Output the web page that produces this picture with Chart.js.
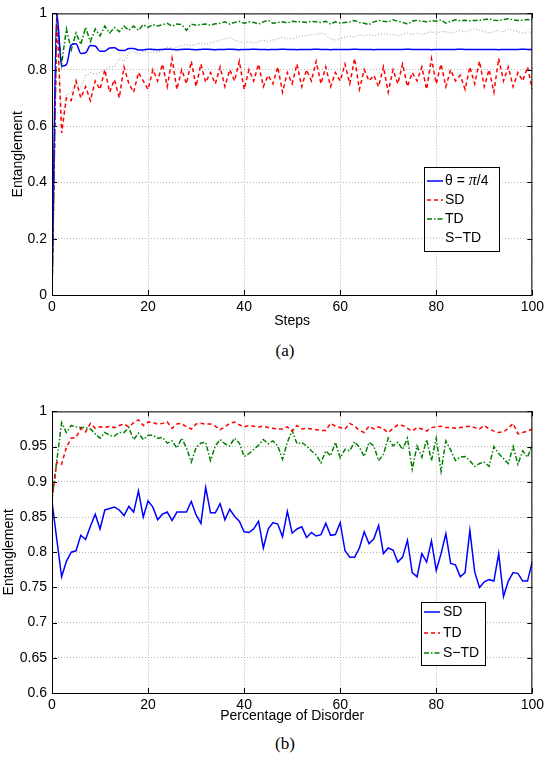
<!DOCTYPE html>
<html>
<head>
<meta charset="utf-8">
<script src="https://cdn.jsdelivr.net/npm/chart.js@4.4.0/dist/chart.umd.min.js"></script>
<style>
  body { margin: 0; background: #fff; width: 548px; height: 766px; position: relative; overflow: hidden; }
  .wrap { position: absolute; left: 0; width: 548px; height: 336px; }
  .cap { position: absolute; left: 0; width: 570px; text-align: center; font: 17px "Liberation Serif", serif; color: #000; }
</style>
</head>
<body>
<div class="wrap" style="top:0"><canvas id="chartA" width="548" height="336"></canvas></div>
<div class="cap" style="top:341px">(a)</div>
<div class="wrap" style="top:398px"><canvas id="chartB" width="548" height="336"></canvas></div>
<div class="cap" style="top:734px">(b)</div>
<script>
// x positions shared by both panels
const steps = Array.from({ length: 101 }, (_, i) => i);

// panel (a): entanglement vs steps
const thetaA = [0, 1, 0.813, 0.818, 0.888, 0.892, 0.858, 0.860, 0.886, 0.884, 0.866, 0.866, 0.877, 0.878, 0.869, 0.868, 0.875, 0.875, 0.870, 0.870, 0.873,
  0.872, 0.871, 0.872, 0.873, 0.872, 0.871, 0.872, 0.873, 0.872, 0.871,
  0.872, 0.873, 0.872, 0.871, 0.872, 0.872, 0.873, 0.872, 0.871, 0.872,
  0.872, 0.873, 0.872, 0.872, 0.871, 0.872, 0.872, 0.873, 0.872, 0.872,
  0.871, 0.872, 0.872, 0.872, 0.873, 0.872, 0.872, 0.871, 0.872, 0.872,
  0.872, 0.872, 0.873, 0.872, 0.872, 0.872, 0.871, 0.872, 0.872, 0.872,
  0.872, 0.872, 0.872, 0.873, 0.872, 0.872, 0.872, 0.872, 0.871, 0.872,
  0.872, 0.872, 0.872, 0.872, 0.873, 0.872, 0.872, 0.872, 0.872, 0.872,
  0.872, 0.872, 0.871, 0.872, 0.872, 0.872, 0.872, 0.873, 0.872, 0.872];
const sdA = [0, 1, 0.575, 0.70, 0.69, 0.76, 0.70, 0.74, 0.69, 0.76, 0.73, 0.80, 0.72, 0.765, 0.70, 0.81, 0.75, 0.72, 0.79, 0.76, 0.73,
  0.80, 0.76, 0.82, 0.74, 0.84, 0.73, 0.80, 0.75, 0.83, 0.74,
  0.82, 0.755, 0.79, 0.75, 0.81, 0.74, 0.80, 0.76, 0.83, 0.73,
  0.80, 0.76, 0.82, 0.74, 0.78, 0.75, 0.81, 0.72, 0.79, 0.75,
  0.82, 0.74, 0.80, 0.76, 0.83, 0.75, 0.81, 0.74, 0.79, 0.76,
  0.82, 0.75, 0.84, 0.73, 0.80, 0.76, 0.78, 0.74, 0.81, 0.72,
  0.80, 0.75, 0.82, 0.74, 0.79, 0.76, 0.81, 0.73, 0.84, 0.75,
  0.82, 0.74, 0.80, 0.76, 0.78, 0.73, 0.81, 0.75, 0.83, 0.74,
  0.80, 0.72, 0.84, 0.76, 0.81, 0.74, 0.79, 0.76, 0.81, 0.73, 0.77];
const tdA = [0, 1, 0.82, 0.945, 0.87, 0.93, 0.89, 0.95, 0.90, 0.945, 0.92, 0.955, 0.93, 0.95, 0.935, 0.955, 0.94, 0.955, 0.94, 0.96, 0.95,
  0.96, 0.955, 0.96, 0.965, 0.955, 0.962, 0.96, 0.94, 0.962, 0.958,
  0.96, 0.962, 0.958, 0.963, 0.965, 0.97, 0.962, 0.968, 0.972, 0.965,
  0.97, 0.968, 0.962, 0.97, 0.976, 0.965, 0.968, 0.97, 0.966, 0.972,
  0.97, 0.97, 0.968, 0.972, 0.97, 0.968, 0.972, 0.962, 0.97, 0.966,
  0.968, 0.97, 0.975, 0.968, 0.965, 0.96, 0.97, 0.975, 0.972, 0.97,
  0.977, 0.972, 0.968, 0.962, 0.972, 0.976, 0.972, 0.97, 0.974, 0.972,
  0.977, 0.965, 0.972, 0.977, 0.974, 0.976, 0.974, 0.975, 0.976, 0.978,
  0.981, 0.976, 0.975, 0.978, 0.981, 0.977, 0.975, 0.976, 0.978, 0.977];
const stdA = [0, 1, 0.62, 0.71, 0.72, 0.75, 0.74, 0.78, 0.79, 0.785, 0.79, 0.80, 0.81, 0.81, 0.84, 0.83, 0.86, 0.865, 0.855, 0.865, 0.86,
  0.865, 0.86, 0.87, 0.88, 0.875, 0.88, 0.885, 0.89, 0.885, 0.89,
  0.895, 0.89, 0.895, 0.90, 0.905, 0.91, 0.915, 0.905, 0.90, 0.895,
  0.90, 0.895, 0.90, 0.905, 0.90, 0.905, 0.91, 0.915, 0.91, 0.91,
  0.915, 0.92, 0.92, 0.925, 0.925, 0.93, 0.925, 0.91, 0.905, 0.91,
  0.915, 0.92, 0.915, 0.925, 0.92, 0.925, 0.92, 0.925, 0.93, 0.925,
  0.925, 0.92, 0.925, 0.93, 0.925, 0.93, 0.925, 0.93, 0.935, 0.93,
  0.935, 0.935, 0.93, 0.935, 0.94, 0.935, 0.94, 0.945, 0.94, 0.935,
  0.93, 0.935, 0.94, 0.935, 0.945, 0.94, 0.935, 0.93, 0.935, 0.93];

// panel (b): entanglement vs percentage of disorder
const sdB = [0.872, 0.818, 0.765, 0.787, 0.800, 0.802, 0.824, 0.818, 0.837, 0.854, 0.833,
  0.860, 0.862, 0.864, 0.860, 0.852, 0.865, 0.857, 0.887, 0.850, 0.873,
  0.864, 0.846, 0.854, 0.857, 0.845, 0.857, 0.857, 0.857, 0.872, 0.853,
  0.841, 0.892, 0.856, 0.856, 0.869, 0.846, 0.861, 0.851, 0.844, 0.829,
  0.828, 0.833, 0.844, 0.806, 0.833, 0.842, 0.840, 0.822, 0.858, 0.827,
  0.833, 0.836, 0.821, 0.828, 0.823, 0.825, 0.841, 0.824, 0.825, 0.842,
  0.802, 0.793, 0.793, 0.806, 0.829, 0.812, 0.819, 0.838, 0.798, 0.806,
  0.803, 0.786, 0.793, 0.817, 0.771, 0.765, 0.798, 0.786, 0.816, 0.774,
  0.798, 0.826, 0.784, 0.782, 0.765, 0.771, 0.831, 0.772, 0.750, 0.758,
  0.761, 0.759, 0.798, 0.737, 0.759, 0.771, 0.770, 0.759, 0.759, 0.787];
const tdB = [0.875, 0.928, 0.925, 0.949, 0.962, 0.963, 0.976, 0.971, 0.983, 0.976, 0.978,
  0.977, 0.979, 0.977, 0.980, 0.982, 0.978, 0.984, 0.988, 0.980, 0.985,
  0.984, 0.982, 0.983, 0.985, 0.976, 0.982, 0.983, 0.978, 0.975, 0.982,
  0.983, 0.982, 0.982, 0.979, 0.974, 0.978, 0.983, 0.985, 0.981, 0.978,
  0.980, 0.979, 0.978, 0.979, 0.977, 0.976, 0.975, 0.975, 0.978, 0.972,
  0.980, 0.975, 0.976, 0.975, 0.974, 0.973, 0.973, 0.983, 0.979, 0.977,
  0.975, 0.983, 0.979, 0.973, 0.970, 0.979, 0.975, 0.978, 0.975, 0.970,
  0.976, 0.981, 0.980, 0.976, 0.972, 0.977, 0.975, 0.972, 0.977, 0.978,
  0.979, 0.977, 0.977, 0.976, 0.977, 0.978, 0.979, 0.977, 0.975, 0.980,
  0.975, 0.972, 0.970, 0.971, 0.976, 0.983, 0.968, 0.970, 0.972, 0.975];
const stdB = [0.875, 0.930, 0.984, 0.970, 0.980, 0.978, 0.977, 0.977, 0.975, 0.968, 0.962,
  0.970, 0.966, 0.965, 0.970, 0.970, 0.977, 0.960, 0.969, 0.960, 0.966,
  0.966, 0.962, 0.963, 0.955, 0.958, 0.948, 0.962, 0.948, 0.928, 0.949,
  0.955, 0.956, 0.930, 0.951, 0.960, 0.954, 0.951, 0.962, 0.955, 0.936,
  0.940, 0.946, 0.952, 0.960, 0.954, 0.958, 0.951, 0.932, 0.956, 0.973,
  0.954, 0.956, 0.951, 0.944, 0.938, 0.927, 0.944, 0.937, 0.956, 0.934,
  0.946, 0.944, 0.957, 0.949, 0.936, 0.956, 0.951, 0.930, 0.939, 0.962,
  0.951, 0.956, 0.946, 0.962, 0.918, 0.951, 0.935, 0.960, 0.930, 0.962,
  0.915, 0.958, 0.945, 0.930, 0.935, 0.936, 0.930, 0.922, 0.926, 0.928,
  0.922, 0.950, 0.940, 0.933, 0.926, 0.950, 0.925, 0.944, 0.935, 0.952];

Chart.defaults.font.family = '"Liberation Sans", Arial, sans-serif';
Chart.defaults.font.size = 14;
Chart.defaults.color = '#000';

const toPoints = (vals) => vals.map((v, i) => ({ x: steps[i], y: v }));

function line(label, vals, color, dash, extra) {
  return Object.assign({
    label, data: toPoints(vals), borderColor: color, backgroundColor: color,
    borderWidth: 1.5, borderDash: dash, pointRadius: 0, tension: 0, fill: false
  }, extra || {});
}

// MATLAB style frame with inward ticks on all four sides
const matlabBox = {
  id: 'matlabBox',
  afterDatasetsDraw(chart) {
    const { ctx, chartArea: a, scales: { x, y } } = chart;
    ctx.save();
    ctx.strokeStyle = '#000';
    ctx.lineWidth = 1;
    ctx.setLineDash([]);
    ctx.strokeRect(a.left + 0.5, a.top + 0.5, a.right - a.left - 1, a.bottom - a.top);
    ctx.beginPath();
    x.ticks.forEach(t => {
      const px = Math.round(x.getPixelForValue(t.value)) + 0.5;
      ctx.moveTo(px, a.bottom); ctx.lineTo(px, a.bottom - 5);
      ctx.moveTo(px, a.top); ctx.lineTo(px, a.top + 5);
    });
    y.ticks.forEach(t => {
      const py = Math.round(y.getPixelForValue(t.value)) + 0.5;
      ctx.moveTo(a.left, py); ctx.lineTo(a.left + 5, py);
      ctx.moveTo(a.right, py); ctx.lineTo(a.right - 5, py);
    });
    ctx.stroke();
    ctx.restore();
  }
};

function drawLabel(ctx, text, x, y) {
  const parts = text.split('π');
  let cx = x;
  parts.forEach((p, i) => {
    ctx.font = '14px "Liberation Sans", Arial, sans-serif';
    ctx.fillText(p, cx, y);
    cx += ctx.measureText(p).width;
    if (i < parts.length - 1) {
      ctx.font = 'italic 16px "Liberation Serif", serif';
      ctx.fillText('π', cx, y);
      cx += ctx.measureText('π').width;
    }
  });
}

// legend box placed inside the plot area
const boxLegend = {
  id: 'boxLegend',
  afterDraw(chart, args, opts) {
    const ctx = chart.ctx;
    ctx.save();
    ctx.fillStyle = '#fff';
    ctx.fillRect(opts.x, opts.y, opts.w, opts.h);
    ctx.strokeStyle = '#000';
    ctx.lineWidth = 1;
    ctx.setLineDash([]);
    ctx.strokeRect(opts.x + 0.5, opts.y + 0.5, opts.w, opts.h);
    ctx.textBaseline = 'middle';
    ctx.textAlign = 'left';
    chart.data.datasets.forEach((ds, i) => {
      const ry = opts.rows[i];
      ctx.strokeStyle = ds.borderColor;
      ctx.lineWidth = ds.borderWidth;
      ctx.setLineDash(ds.borderDash || []);
      ctx.beginPath();
      ctx.moveTo(opts.x1, ry); ctx.lineTo(opts.x2, ry);
      ctx.stroke();
      ctx.setLineDash([]);
      ctx.fillStyle = '#000';
      drawLabel(ctx, ds.label, opts.tx, ry);
    });
    ctx.restore();
  }
};

function axes(xTitle, xPad, yMin, yMax, yStep, yPad) {
  return {
    x: {
      type: 'linear', min: 0, max: 100,
      ticks: { stepSize: 20, padding: 4, maxRotation: 0, color: '#000' },
      grid: { color: '#b4b4b4', lineWidth: 1, drawTicks: false },
      border: { display: false, dash: [1, 2] },
      title: { display: true, text: xTitle, padding: { top: 0, bottom: xPad }, font: { size: 14 } },
      afterFit: s => { s.height = 41; }
    },
    y: {
      min: yMin, max: yMax,
      ticks: { stepSize: yStep, padding: 5, color: '#000', callback: v => String(+v.toFixed(2)) },
      grid: { color: '#b4b4b4', lineWidth: 1, drawTicks: false },
      border: { display: false, dash: [1, 2] },
      title: { display: true, text: 'Entanglement', padding: { top: yPad, bottom: 0 }, font: { size: 14 } },
      afterFit: s => { s.width = 52; }
    }
  };
}

new Chart(document.getElementById('chartA'), {
  type: 'line',
  data: {
    datasets: [
      line('θ = π/4', thetaA, '#0000ff', [], { cubicInterpolationMode: 'monotone' }),
      line('SD', sdA, '#ff0000', [4, 3]),
      line('TD', tdA, '#008000', [5, 2, 1.5, 2]),
      line('S\u2212TD', stdA, '#b0b0b0', [1, 2], { borderWidth: 1.2 })
    ]
  },
  options: {
    responsive: false, animation: false,
    layout: { padding: { left: 0, right: 15, top: 12, bottom: 0 } },
    scales: axes('Steps', 6, 0, 1, 0.2, 10),
    plugins: {
      legend: { display: false }, tooltip: { enabled: false },
      boxLegend: { x: 424, y: 167, w: 75, h: 84, rows: [181, 200, 219, 238], x1: 427, x2: 443, tx: 445 }
    }
  },
  plugins: [matlabBox, boxLegend]
});

new Chart(document.getElementById('chartB'), {
  type: 'line',
  data: {
    datasets: [
      line('SD', sdB, '#0000ff', []),
      line('TD', tdB, '#ff0000', [4, 3]),
      line('S\u2212TD', stdB, '#008000', [5, 2, 1.5, 2])
    ]
  },
  options: {
    responsive: false, animation: false,
    layout: { padding: { left: 0, right: 15, top: 12, bottom: 0 } },
    scales: axes('Percentage of Disorder', 9, 0.6, 1, 0.05, 1),
    plugins: {
      legend: { display: false }, tooltip: { enabled: false },
      boxLegend: { x: 421, y: 204, w: 64, h: 63, rows: [214, 235, 255], x1: 424, x2: 440, tx: 443 }
    }
  },
  plugins: [matlabBox, boxLegend]
});
</script>
</body>
</html>
